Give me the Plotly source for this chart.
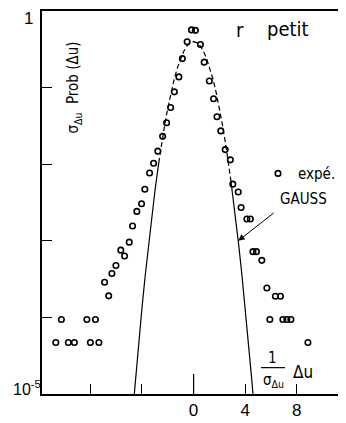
import plotly.graph_objects as go

# ---------------- data ----------------
# experimental points ("expé.")
exp_x = [-10.68, -10.25, -9.71, -9.24, -8.27, -8.00, -7.61, -7.34, -6.90, -6.58,
         -6.33, -6.02, -5.64, -5.35, -4.99, -4.73, -4.40, -4.03, -3.78, -3.41,
         -3.10, -2.77, -2.40, -2.09, -1.78, -1.49, -1.14, -0.87, -0.50, -0.16,
         0.14, 0.53, 0.82, 1.22, 1.55, 1.81, 2.11, 2.45, 2.85, 3.04,
         3.46, 3.68, 4.13, 4.40, 4.60, 4.87, 5.29, 5.68, 5.91, 6.34,
         6.73, 6.92, 7.23, 7.54, 8.86]
exp_y = [4.7e-5, 9.4e-5, 4.7e-5, 4.7e-5, 9.4e-5, 4.7e-5, 9.4e-5, 4.7e-5, 2.88e-4, 1.91e-4,
         3.75e-4, 4.76e-4, 7.55e-4, 6.32e-4, 9.6e-4, 1.56e-3, 2.42e-3, 3.04e-3, 4.70e-3, 7.67e-3,
         1.03e-2, 1.48e-2, 2.31e-2, 3.47e-2, 5.49e-2, 8.80e-2, 0.138, 0.239, 0.397, 0.567,
         0.559, 0.366, 0.215, 0.122, 0.0714, 0.0417, 0.0272, 0.0155, 0.0114, 5.49e-3,
         4.33e-3, 2.72e-3, 1.93e-3, 1.93e-3, 7.22e-4, 7.22e-4, 5.56e-4, 2.42e-4, 9.4e-5, 1.89e-4,
         1.89e-4, 9.4e-5, 9.4e-5, 9.4e-5, 4.7e-5]

# GAUSS curve: solid tails, dashed core
gauss_left_x = [-4.7, -4.5, -4.25, -4.0, -3.75, -3.5, -3.25, -3.0, -2.75, -2.7]
gauss_left_y = [6.37e-6, 1.598e-5, 4.77e-5, 1.338e-4, 3.53e-4, 8.73e-4, 2.029e-3, 4.432e-3, 9.09e-3, 1.042e-2]
gauss_core_x = [-2.7, -2.5, -2.25, -2.0, -1.75, -1.5, -1.25, -1.0, -0.75, -0.5, -0.25, 0.0,
                0.25, 0.5, 0.75, 1.0, 1.25, 1.5, 1.75, 2.0, 2.25, 2.5, 2.75, 2.9]
gauss_core_y = [1.042e-2, 1.753e-2, 3.174e-2, 0.0540, 0.0863, 0.1295, 0.1826, 0.2420, 0.3011, 0.3521, 0.3867, 0.3989,
                0.3867, 0.3521, 0.3011, 0.2420, 0.1826, 0.1295, 0.0863, 0.0540, 3.174e-2, 1.753e-2, 9.09e-3, 5.95e-3]
gauss_right_x = [2.9, 3.0, 3.25, 3.5, 3.75, 4.0, 4.25, 4.5, 4.7]
gauss_right_y = [5.95e-3, 4.432e-3, 2.029e-3, 8.73e-4, 3.53e-4, 1.338e-4, 4.77e-5, 1.598e-5, 6.37e-6]

x_tickvals = [-8, -4, 0, 4, 8]
x_ticktext = ["", "", "0", "4", "8"]
y_tickvals = [1e-4, 1e-3, 1e-2, 1e-1]

# ---------------- figure ----------------
# the page body has an 8px margin: the figure is placed 8px right/down
OFF = 8
W, H = 338, 415
ML, MR, MT, MB = 34, 3, 1, 29
PW, PH = W - ML - MR, H - MT - MB


def px(xw):
    """window pixel x -> paper x"""
    return (xw - OFF - ML) / PW


def py(yw):
    """window pixel y -> paper y"""
    return (H - MB - (yw - OFF)) / PH


LBL = "Liberation Sans, Arial, sans-serif"
HAND = "DejaVu Sans Condensed, Liberation Sans Narrow, DejaVu Sans, sans-serif"

fig = go.Figure()
gline = dict(color="black", width=1.2)
fig.add_trace(go.Scatter(x=gauss_left_x, y=gauss_left_y, mode="lines", line=gline,
                         showlegend=False, hoverinfo="skip"))
fig.add_trace(go.Scatter(x=gauss_core_x, y=gauss_core_y, mode="lines",
                         line=dict(color="black", width=1.2, dash="5px,3px"),
                         showlegend=False, hoverinfo="skip"))
fig.add_trace(go.Scatter(x=gauss_right_x, y=gauss_right_y, mode="lines", line=gline,
                         showlegend=False, hoverinfo="skip"))
fig.add_trace(go.Scatter(x=exp_x, y=exp_y, mode="markers", name="expé.",
                         marker=dict(symbol="circle-open", size=5.5, color="black",
                                     line=dict(width=1.6, color="black"))))

# longer tick at x = 0
fig.add_shape(type="line", xref="x", yref="paper", x0=0, x1=0, y0=0, y1=20 / PH,
              line=dict(color="black", width=1.2))
# fraction bar of the x label
fig.add_shape(type="line", xref="paper", yref="paper", x0=px(261), x1=px(285),
              y0=py(367.5), y1=py(367.5), line=dict(color="black", width=1.2))

ann = []


def txt(t, x, y, size, font=HAND, xanchor="center", **kw):
    ann.append(dict(text=t, x=px(x), y=py(y), xref="paper", yref="paper",
                    showarrow=False, xanchor=xanchor, yanchor="middle",
                    font=dict(size=size, family=font, color="black"), **kw))


txt("1", 28, 17, 17, LBL)
txt("10<sup>-5</sup>", 43, 388, 16, LBL, xanchor="right")
txt("12", 347, 408, 17, LBL)
txt("σ<sub>Δu</sub>  Prob (Δu)", 74, 86, 15, HAND, textangle=-90)
txt("r", 240, 28, 20, HAND)
txt("petit", 288, 27, 20, HAND)
txt("GAUSS", 303, 198, 15, HAND)
txt("1", 272, 358, 15, HAND)
txt("σ<sub>Δu</sub>", 273, 380, 15, HAND)
txt("Δu", 303, 372, 17, HAND)

# arrow pointing at the Gauss curve
ann.append(dict(x=3.46, y=-3.0, xref="x", yref="y", ax=37, ay=-29,
                showarrow=True, arrowhead=2, arrowsize=1.3, arrowwidth=1,
                arrowcolor="black", text=""))

fig.update_layout(
    width=W, height=H,
    margin=dict(l=ML, r=MR, t=MT, b=MB, pad=0),
    paper_bgcolor="white", plot_bgcolor="white",
    font=dict(family=LBL, color="black"),
    annotations=ann,
    showlegend=True,
    legend=dict(x=px(258), y=py(172.5), xanchor="left", yanchor="middle",
                bgcolor="rgba(0,0,0,0)", borderwidth=0, itemwidth=30,
                font=dict(size=15, family=HAND, color="black")),
    xaxis=dict(range=[-11.75, 11.58], showgrid=False, zeroline=False,
               showline=True, linecolor="black", linewidth=1.6, mirror=True,
               ticks="inside", ticklen=10, tickwidth=1.2, tickcolor="black",
               tickvals=x_tickvals, ticktext=x_ticktext,
               tickfont=dict(size=17, family=LBL, color="black")),
    yaxis=dict(type="log", range=[-5, 0], showgrid=False, zeroline=False,
               showline=True, linecolor="black", linewidth=1.6, mirror=True,
               ticks="inside", ticklen=10, tickwidth=1.2, tickcolor="black",
               tickvals=y_tickvals, showticklabels=False),
)

fig.write_html("out.html")
